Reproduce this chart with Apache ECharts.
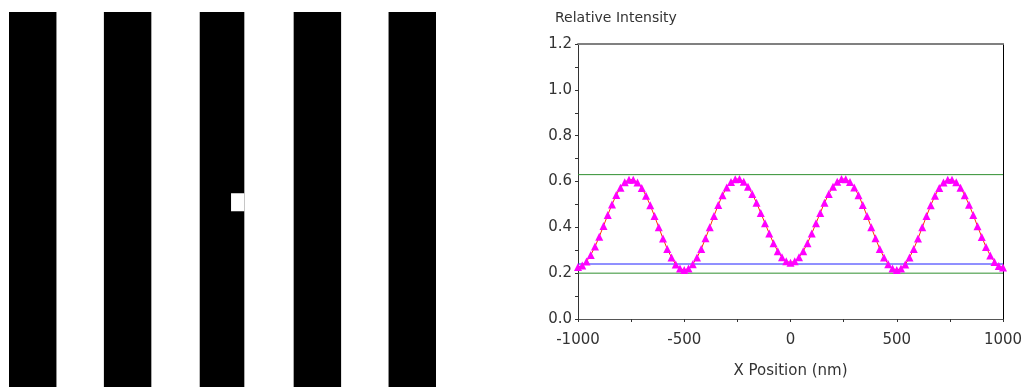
<!DOCTYPE html>
<html>
<head>
<meta charset="utf-8">
<script src="https://cdn.jsdelivr.net/npm/echarts@6/dist/echarts.min.js"></script>
<style>
  html, body { margin: 0; padding: 0; background: #fff; }
  #main { width: 1023px; height: 387px; }
</style>
</head>
<body>
<div id="main"></div>
<script>
// mask pattern (nm): dark lines [x0, x1], full height
const maskRange = [-1125, 1125];
const maskLines = [[-1125, -875], [-625, -375], [-120, 115], [375, 625], [875, 1125]];
// clear notch cut into the centre line [x0, x1, y0, y1]
const maskNotch = [[45, 115, 75, 170]];

// aerial image profile
const xPos = [];
for (let x = -1000; x <= 1000; x += 20) xPos.push(x);
const intensity = [
  0.227, 0.233, 0.251, 0.279, 0.316, 0.359, 0.406, 0.454, 0.500, 0.541, 0.573, 0.597, 0.608,
  0.608, 0.596, 0.572, 0.538, 0.496, 0.449, 0.400, 0.351, 0.306, 0.268, 0.238, 0.220, 0.214,
  0.220, 0.239, 0.268, 0.306, 0.352, 0.400, 0.450, 0.498, 0.540, 0.574, 0.598, 0.610,
  0.611, 0.599, 0.577, 0.546, 0.507, 0.463, 0.418, 0.373, 0.331, 0.296, 0.269, 0.252, 0.246,
  0.252, 0.269, 0.296, 0.331, 0.373, 0.418, 0.463, 0.507, 0.546, 0.577, 0.599, 0.611,
  0.610, 0.598, 0.574, 0.540, 0.498, 0.450, 0.400, 0.352, 0.306, 0.268, 0.239, 0.220, 0.214,
  0.220, 0.238, 0.268, 0.306, 0.351, 0.400, 0.449, 0.496, 0.538, 0.572, 0.596, 0.608,
  0.608, 0.597, 0.573, 0.540, 0.499, 0.454, 0.405, 0.358, 0.314, 0.277, 0.249, 0.231, 0.225
];
const upperLimit = 0.63;
const lowerLimit = 0.2;
const threshold = 0.24;

const font = 'DejaVu Sans';

const chart = echarts.init(document.getElementById('main'));

function rectItem(fill) {
  return function (params, api) {
    const p0 = api.coord([api.value(0), api.value(3)]);
    const p1 = api.coord([api.value(1), api.value(2)]);
    return {
      type: 'rect',
      shape: { x: p0[0], y: p0[1], width: p1[0] - p0[0], height: p1[1] - p0[1] },
      style: { fill: fill }
    };
  };
}

const hline = (y, color) => ({
  type: 'line',
  xAxisIndex: 1,
  yAxisIndex: 1,
  data: [[-1000, y], [1000, y]],
  symbol: 'none',
  silent: true,
  lineStyle: { color: color, width: 1 },
  z: 1
});

chart.setOption({
  animation: false,
  backgroundColor: '#fff',
  title: {
    text: 'Relative Intensity',
    left: 550,
    top: 6,
    textStyle: { fontFamily: font, fontSize: 14, fontWeight: 'normal', color: '#333' }
  },
  grid: [
    { left: 9, top: 12, width: 427, height: 427, outerBoundsMode: 'none', containLabel: false },
    { left: 578, right: 20, top: 44, bottom: 68, outerBoundsMode: 'none', containLabel: false }
  ],
  xAxis: [
    { gridIndex: 0, type: 'value', min: maskRange[0], max: maskRange[1], show: false },
    {
      gridIndex: 1, type: 'value', min: -1000, max: 1000, interval: 500,
      name: 'X Position (nm)', nameLocation: 'middle', nameGap: 45,
      nameTextStyle: { fontFamily: font, fontSize: 15, color: '#333' },
      axisLine: { onZero: false, lineStyle: { color: '#555', width: 1 } },
      axisTick: { length: 3, lineStyle: { color: '#333' } },
      minorTick: { show: true, splitNumber: 2, length: 3, lineStyle: { color: '#333' } },
      axisLabel: { margin: 14, fontFamily: font, fontSize: 15, color: '#333', formatter: v => String(v) },
      splitLine: { show: false }
    },
    {
      gridIndex: 1, type: 'value', min: -1000, max: 1000, position: 'top',
      axisLine: { onZero: false, lineStyle: { color: '#808080', width: 2 } },
      axisTick: { show: false }, axisLabel: { show: false }, splitLine: { show: false }
    }
  ],
  yAxis: [
    { gridIndex: 0, type: 'value', min: maskRange[0], max: maskRange[1], show: false },
    {
      gridIndex: 1, type: 'value', min: 0, max: 1.2, interval: 0.2,
      axisLine: { show: true, onZero: false, lineStyle: { color: '#333', width: 1 } },
      axisTick: { show: true, length: 3, lineStyle: { color: '#333' } },
      minorTick: { show: true, splitNumber: 2, length: 3, lineStyle: { color: '#333' } },
      axisLabel: { margin: 6, fontFamily: font, fontSize: 15, color: '#333', formatter: v => v.toFixed(1) },
      splitLine: { show: false }
    },
    {
      gridIndex: 1, type: 'value', min: 0, max: 1.2, position: 'right',
      axisLine: { show: true, onZero: false, lineStyle: { color: '#000', width: 1 } },
      axisTick: { show: false }, axisLabel: { show: false }, splitLine: { show: false }
    }
  ],
  series: [
    {
      type: 'custom',
      xAxisIndex: 0, yAxisIndex: 0,
      renderItem: rectItem('#000'),
      encode: { x: [0, 1], y: [2, 3] },
      data: maskLines.map(l => [l[0], l[1], maskRange[0], maskRange[1]]),
      silent: true
    },
    {
      type: 'custom',
      xAxisIndex: 0, yAxisIndex: 0,
      renderItem: rectItem('#fff'),
      encode: { x: [0, 1], y: [2, 3] },
      data: maskNotch,
      silent: true,
      z: 3
    },
    hline(upperLimit, '#2f8f2f'),
    hline(lowerLimit, '#2f8f2f'),
    hline(threshold, '#2020ff'),
    {
      type: 'line',
      xAxisIndex: 1, yAxisIndex: 1,
      data: xPos.map((x, i) => [x, intensity[i]]),
      symbol: 'triangle',
      symbolSize: 8,
      showAllSymbol: true,
      itemStyle: { color: '#ff00ff' },
      lineStyle: { color: '#ff3300', width: 1 },
      z: 3
    }
  ]
});
</script>
</body>
</html>
